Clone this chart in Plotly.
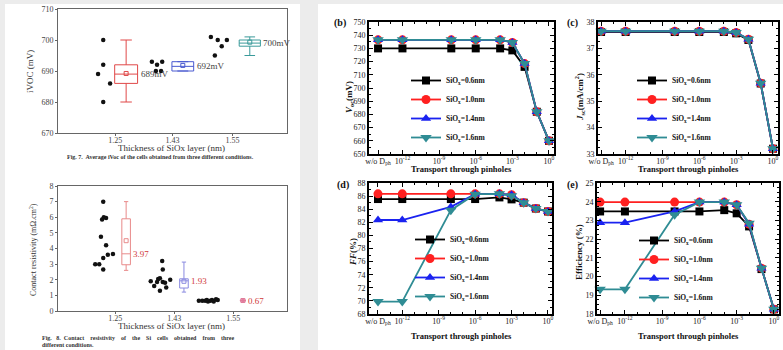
import plotly.graph_objects as go

W, H = 783, 350
SERIF = "Liberation Serif"

# ---------------- Left panel 1: iVOC ----------------
thickness_labels = ["1.25", "1.43", "1.55"]
ivoc_tick_pos = [1.0, 2.0, 3.05]
ivoc_pts_x = [[0.79, 0.79, 0.70, 0.91, 0.79],
              [1.64, 1.73, 1.82, 1.71, 1.80],
              [2.67, 2.79, 2.95, 2.86, 2.74]]
ivoc_pts_y = [[700, 692, 689, 686, 680],
              [693, 692, 693, 690, 690],
              [701, 700, 700, 698, 695]]
ivoc_box_x = [1.19, 2.18, 3.35]
ivoc_box_w = [0.40, 0.38, 0.37]
ivoc_q1 = [686, 690, 698]
ivoc_med = [689, 691.5, 699]
ivoc_q3 = [692, 693, 700]
ivoc_lo = [680, 690, 695]
ivoc_hi = [700, 693, 701]
ivoc_mean = [689.2, 691.8, 699.3]
ivoc_labels = ["689mV", "692mV", "700mV"]
ivoc_colors = ["#e04848", "#4a5ad0", "#3a9a9a"]

# ---------------- Left panel 2: contact resistivity ----------------
cr_tick_pos = [1.0, 2.03, 3.06]
cr_pts_x = [[0.79, 0.77, 0.80, 0.84, 0.75, 0.84, 0.65, 0.72, 0.79, 0.87, 0.96, 0.79],
            [1.62, 1.68, 1.73, 1.75, 1.78, 1.78, 1.82, 1.83, 1.83, 1.87, 1.89, 1.96],
            [2.46, 2.52, 2.57, 2.62, 2.66, 2.69, 2.72, 2.76, 2.79, 2.60]]
cr_pts_y = [[7.0, 5.85, 6.0, 5.95, 4.75, 4.2, 3.0, 3.0, 3.4, 3.6, 3.65, 2.65],
            [1.9, 1.6, 1.85, 2.05, 1.3, 2.1, 3.2, 2.65, 1.85, 1.8, 1.5, 2.0],
            [0.65, 0.65, 0.65, 0.6, 0.65, 0.7, 0.6, 0.75, 0.7, 0.7]]
cr_box_x = [1.19, 2.20, 3.23]
cr_box_w = [0.15, 0.15, 0.09]
cr_q1 = [2.96, 1.47, 0.63]
cr_med = [3.66, 1.93, 0.67]
cr_q3 = [5.9, 2.06, 0.71]
cr_lo = [2.6, 1.21, 0.6]
cr_hi = [7.0, 3.13, 0.75]
cr_mean = [4.5, 1.9, 0.67]
cr_labels = ["3.97", "1.93", "0.67"]
cr_colors = ["#e88a8a", "#8a8ae0", "#e07a9a"]

# ---------------- Right panels: simulation ----------------
pinhole_exp = [-14, -12, -8, -6, -4, -3, -2, -1, 0]
pin_tickvals = [-14, -12, -9, -6, -3, 0]
pin_ticktext = ["w/o D<sub>ph</sub>", "10<sup>-12</sup>", "10<sup>-9</sup>",
                "10<sup>-6</sup>", "10<sup>-3</sup>", "10<sup>0</sup>"]
series_names = ["SiO<sub>x</sub>=0.6nm", "SiO<sub>x</sub>=1.0nm",
                "SiO<sub>x</sub>=1.4nm", "SiO<sub>x</sub>=1.6nm"]
series_colors = ["#000000", "#ff2020", "#1a22f0", "#2f8c94"]
series_symbols = ["square", "circle", "triangle-up", "triangle-down"]
series_sizes = [8, 9, 9, 10]

voc = [[730, 730, 730, 730, 730, 728.5, 716, 682, 660],
       [736.5, 736.5, 736.5, 736.5, 736.5, 734.5, 718.5, 682, 660],
       [736.5, 736.5, 736.5, 736.5, 736.5, 734.5, 718.5, 682, 660],
       [736.5, 736.5, 736.5, 736.5, 736.5, 734.5, 718.5, 682, 660]]
jsc = [[37.62, 37.62, 37.62, 37.62, 37.62, 37.57, 37.32, 35.67, 33.2],
       [37.65, 37.65, 37.65, 37.65, 37.65, 37.60, 37.35, 35.68, 33.2],
       [37.65, 37.65, 37.65, 37.65, 37.65, 37.60, 37.35, 35.68, 33.2],
       [37.65, 37.65, 37.65, 37.65, 37.65, 37.60, 37.35, 35.68, 33.2]]
ff = [[85.55, 85.55, 85.55, 85.55, 85.8, 85.5, 85.0, 84.1, 83.65],
      [86.35, 86.35, 86.35, 86.35, 86.35, 86.2, 85.0, 84.1, 83.65],
      [82.35, 82.35, 84.35, 86.3, 86.35, 86.2, 85.0, 84.1, 83.65],
      [69.9, 69.9, 83.85, 86.3, 86.35, 86.05, 85.0, 84.1, 83.65]]
eff = [[23.48, 23.48, 23.48, 23.48, 23.55, 23.38, 22.68, 20.4, 18.25],
       [23.98, 23.98, 23.98, 23.98, 23.98, 23.84, 22.8, 20.45, 18.25],
       [22.88, 22.88, 23.48, 23.98, 23.98, 23.84, 22.8, 20.45, 18.25],
       [19.32, 19.32, 23.3, 23.98, 23.98, 23.84, 22.85, 20.45, 18.25]]

fig = go.Figure()

def px_x(p):
    return p / W

def px_y(p):
    return 1 - p / H

def paper_text(text, x, y, size, color, bold=False, angle=0, xanchor="center"):
    fig.add_annotation(x=px_x(x), y=px_y(y), xref="paper", yref="paper", text=text,
                       showarrow=False, textangle=angle, xanchor=xanchor, yanchor="middle",
                       font=dict(family=SERIF, size=size, color=color,
                                 weight="bold" if bold else "normal"))

# ---- left panels traces ----
def add_box_panel(xa, ya, pts_x, pts_y, bx, bw, q1, med, q3, lo, hi, mean, labels, colors, label_colors):
    for i in range(3):
        fig.add_trace(go.Scatter(x=pts_x[i], y=pts_y[i], mode="markers", xaxis=xa, yaxis=ya,
                                 marker=dict(color="#111111", size=4.5), showlegend=False, cliponaxis=False))
        fig.add_trace(go.Box(x=[bx[i]], q1=[q1[i]], median=[med[i]], q3=[q3[i]],
                             lowerfence=[lo[i]], upperfence=[hi[i]], width=bw[i],
                             xaxis=xa, yaxis=ya, line=dict(color=colors[i], width=1),
                             fillcolor="rgba(255,255,255,0)", whiskerwidth=0.5,
                             boxpoints=False, showlegend=False, hoverinfo="skip"))
        fig.add_trace(go.Scatter(x=[bx[i]], y=[mean[i]], mode="markers", xaxis=xa, yaxis=ya,
                                 marker=dict(symbol="square-open", color=colors[i], size=4),
                                 showlegend=False))
        fig.add_annotation(x=bx[i] + bw[i] / 2, y=med[i], xref=xa, yref=ya, text=labels[i],
                           showarrow=False, xanchor="left", xshift=1,
                           font=dict(family=SERIF, size=9, color=label_colors[i]))

add_box_panel("x", "y", ivoc_pts_x, ivoc_pts_y, ivoc_box_x, ivoc_box_w, ivoc_q1, ivoc_med, ivoc_q3,
              ivoc_lo, ivoc_hi, ivoc_mean, ivoc_labels, ivoc_colors, ["#444444"] * 3)
add_box_panel("x2", "y2", cr_pts_x, cr_pts_y, cr_box_x, cr_box_w, cr_q1, cr_med, cr_q3,
              cr_lo, cr_hi, cr_mean, cr_labels, cr_colors, ["#d03838"] * 3)

# ---- right panels traces ----
right_data = [("x3", "y3", voc, "legend"), ("x4", "y4", jsc, "legend2"),
              ("x5", "y5", ff, "legend3"), ("x6", "y6", eff, "legend4")]
for xa, ya, data, leg in right_data:
    for i in range(4):
        fig.add_trace(go.Scatter(x=pinhole_exp, y=data[i], mode="lines+markers",
                                 name=series_names[i], xaxis=xa, yaxis=ya, legend=leg,
                                 line=dict(color=series_colors[i], width=1.8),
                                 marker=dict(symbol=series_symbols[i], size=series_sizes[i],
                                             color=series_colors[i]),
                                 cliponaxis=False))

# ---- axes ----
left_axis_common = dict(showline=True, mirror=True, linecolor="#666666", linewidth=1,
                        ticks="outside", ticklen=2, tickcolor="#666666", showgrid=False,
                        zeroline=False, automargin=False,
                        tickfont=dict(family=SERIF, size=8, color="#444444"))
right_axis_common = dict(showline=True, mirror="allticks", linecolor="#000000", linewidth=2,
                         ticks="inside", ticklen=4, tickcolor="#000000", showgrid=False,
                         zeroline=False, automargin=False,
                         tickfont=dict(family=SERIF, size=8, color="#222222"))

layout_axes = {}
layout_axes["xaxis"] = dict(domain=[px_x(58), px_x(287)], range=[0, 4], anchor="y",
                            tickvals=ivoc_tick_pos, ticktext=thickness_labels,
                            ticklabelstandoff=-3, **left_axis_common)
layout_axes["yaxis"] = dict(domain=[px_y(133), px_y(9)], range=[670, 710], dtick=10, anchor="x",
                            **left_axis_common)
layout_axes["xaxis2"] = dict(domain=[px_x(58), px_x(287)], range=[0, 4], anchor="y2",
                             tickvals=cr_tick_pos, ticktext=thickness_labels,
                             ticklabelstandoff=-3, **left_axis_common)
layout_axes["yaxis2"] = dict(domain=[px_y(311), px_y(186)], range=[0, 8], dtick=1, anchor="x2",
                             **left_axis_common)

right_specs = [
    ("xaxis3", "yaxis3", "x3", "y3", 369, 554, 22, 154, [-14.74, 0.41], [650, 750], 10, 5),
    ("xaxis4", "yaxis4", "x4", "y4", 598, 778, 22, 154, [-14.25, 0.41], [33, 38], 1, 0.25),
    ("xaxis5", "yaxis5", "x5", "y5", 369, 552, 183, 314, [-14.74, 0.33], [68, 88], 2, 1),
    ("xaxis6", "yaxis6", "x6", "y6", 597, 779, 183, 314, [-14.25, 0.41], [18, 25], 1, 0.25),
]
for xk, yk, xn, yn, l, r, t, b, xr, yr, dt, mdt in right_specs:
    layout_axes[xk] = dict(domain=[px_x(l), px_x(r)], range=xr, anchor=yn,
                           tickvals=pin_tickvals, ticktext=pin_ticktext, ticklabelstandoff=-2,
                           minor=dict(ticks="inside", ticklen=2, dtick=1, tickcolor="#000000"),
                           **right_axis_common)
    layout_axes[yk] = dict(domain=[px_y(b), px_y(t)], range=yr, dtick=dt, anchor=xn,
                           minor=dict(ticks="inside", ticklen=2, dtick=mdt, tickcolor="#000000"),
                           **right_axis_common)

legend_common = dict(bgcolor="rgba(0,0,0,0)", borderwidth=0, yanchor="bottom", xanchor="left",
                     font=dict(family=SERIF, size=7.5, color="#111111", weight="bold"),
                     itemwidth=30, tracegroupgap=0)
legends = dict(
    legend=dict(x=px_x(406), y=px_y(152), **legend_common),
    legend2=dict(x=px_x(632), y=px_y(152), **legend_common),
    legend3=dict(x=px_x(410), y=px_y(311), **legend_common),
    legend4=dict(x=px_x(634), y=px_y(312), **legend_common),
)

fig.update_layout(width=W, height=H, margin=dict(l=0, r=0, t=0, b=0),
                  paper_bgcolor="#ffffff", plot_bgcolor="#ffffff", boxmode="overlay",
                  font=dict(family=SERIF), **layout_axes, **legends)

# axis titles
paper_text("Thickness of SiOx layer (nm)", 171, 148, 9, "#333333")
paper_text("Thickness of SiOx layer (nm)", 171, 326, 9, "#333333")
paper_text("iVOC (mV)", 30, 71, 9, "#333333", angle=-90)
paper_text("Contact resistivity (mΩ.cm<sup>2</sup>)", 33, 250, 8, "#333333", angle=-90)
for xc, yc in [(461, 169), (688, 169), (461, 336), (688, 336)]:
    paper_text("Transport through pinholes", xc, yc, 8.5, "#111111", bold=True)
paper_text("<i>V</i><sub>oc</sub>(mV)", 349, 97, 9, "#111111", bold=True, angle=-90)
paper_text("<i>J</i><sub>sc</sub>(mA/cm<sup>2</sup>)", 579, 97, 9, "#111111", bold=True, angle=-90)
paper_text("<i>FF</i>(%)", 353, 252, 9, "#111111", bold=True, angle=-90)
paper_text("Efficiency (%)", 579, 252, 9, "#111111", bold=True, angle=-90)

# panel letters
for txt, x, y in [("(b)", 340, 23), ("(c)", 572, 23), ("(d)", 343, 185), ("(e)", 572, 185)]:
    paper_text(txt, x, y, 10, "#111111", bold=True)

# captions
paper_text("Fig. 7.  Average iVoc of the cells obtained from three different conditions.",
           160, 157, 6, "#333333", bold=True)
paper_text("Fig.   8.  Contact    resistivity    of    the    Si    cells    obtained    from    three",
           40, 338, 6, "#333333", bold=True, xanchor="left")
paper_text("different conditions.", 40, 345, 6, "#333333", bold=True, xanchor="left")

# light grey page bands
for x0, x1, y0, y1 in [(300, 318, 0, 350), (0, 783, 0, 4), (0, 5, 0, 350)]:
    fig.add_shape(type="rect", xref="paper", yref="paper", x0=px_x(x0), x1=px_x(x1),
                  y0=px_y(y1), y1=px_y(y0), fillcolor="#ececec", line=dict(width=0), layer="below")

fig.write_html("out.html", config={"displayModeBar": False},
               post_script="document.body.style.margin='0';")
